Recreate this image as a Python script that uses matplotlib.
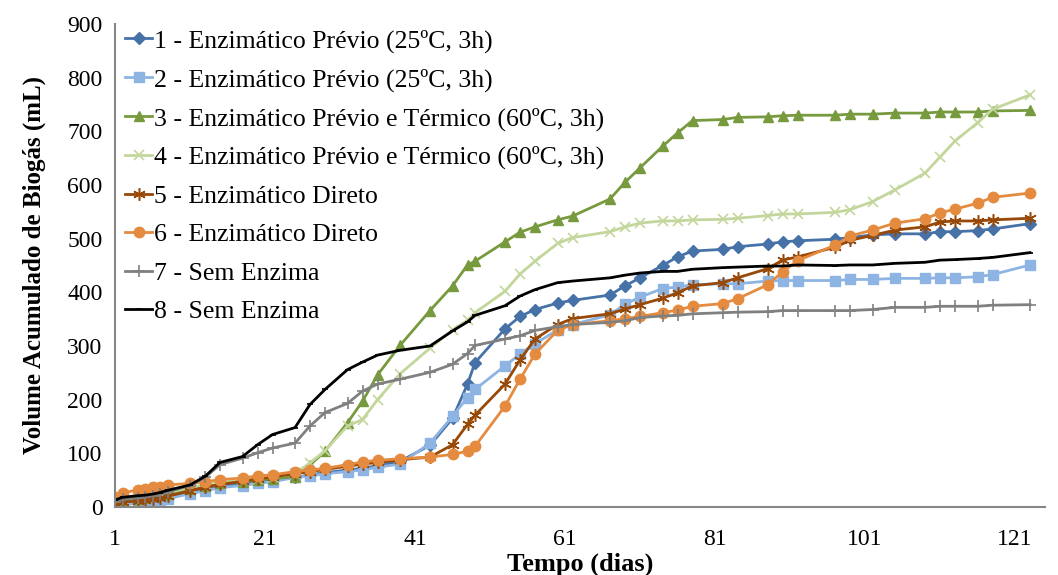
import matplotlib.pyplot as plt

# days on which the biogas volume was read
dias = [1, 2, 4, 5, 6, 7, 8, 11, 13, 15, 18, 20, 22, 25, 27, 29, 32, 34, 36, 39,
        43, 46, 48, 49, 53, 55, 57, 60, 62, 67, 69, 71, 74, 76, 78, 82, 84, 88, 90, 92,
        97, 99, 102, 105, 109, 111, 113, 116, 118, 123]

# accumulated volume (mL) per reactor
r1 = [5, 7, 10, 12, 14, 16, 19, 28, 34, 39, 44, 47, 51, 55, 60, 64, 69, 72, 77, 85,
      115, 165, 229, 269, 332, 355, 368, 380, 385, 395, 412, 427, 450, 466, 477, 480, 485, 490, 494, 496,
      499, 502, 507, 509, 509, 513, 513, 515, 518, 528]
r2 = [2, 4, 7, 9, 11, 13, 15, 25, 30, 36, 40, 44, 47, 55, 58, 62, 66, 69, 74, 80,
      119, 169, 204, 219, 263, 285, 304, 330, 340, 358, 378, 391, 407, 410, 414, 416, 416, 421, 422, 422,
      422, 424, 424, 426, 426, 427, 427, 429, 433, 451]
r3 = [8, 12, 15, 17, 20, 22, 25, 33, 40, 44, 47, 50, 53, 56, 78, 104, 157, 197, 246, 301,
      366, 412, 451, 458, 494, 512, 522, 535, 542, 574, 605, 632, 672, 697, 720, 722, 726, 727, 729, 730,
      730, 732, 732, 734, 734, 736, 736, 736, 738, 739]
r4 = [10, 14, 17, 19, 22, 24, 27, 36, 42, 46, 50, 53, 56, 63, 82, 105, 151, 163, 200, 248,
      296, 330, 348, 362, 402, 434, 458, 491, 502, 513, 522, 529, 533, 533, 535, 536, 538, 543, 546, 546,
      549, 554, 569, 591, 622, 652, 682, 716, 741, 768]
r5 = [6, 9, 11, 13, 15, 17, 20, 30, 37, 42, 48, 52, 56, 62, 66, 70, 76, 80, 83, 88,
      93, 116, 154, 171, 229, 274, 313, 340, 351, 360, 369, 377, 389, 399, 412, 418, 427, 444, 460, 466,
      484, 497, 506, 516, 522, 531, 533, 533, 535, 538]
r6 = [19, 26, 32, 33, 37, 37, 41, 44, 47, 51, 54, 58, 60, 66, 69, 72, 79, 84, 87, 90,
      93, 98, 104, 113, 188, 238, 285, 329, 340, 347, 351, 355, 362, 367, 374, 379, 388, 414, 438, 459,
      488, 505, 516, 529, 537, 548, 555, 566, 577, 585]
r7 = [10, 14, 17, 19, 21, 24, 28, 40, 55, 79, 91, 101, 110, 119, 151, 176, 193, 216, 229, 238,
      251, 266, 286, 301, 313, 319, 329, 336, 340, 344, 347, 353, 356, 357, 360, 362, 363, 364, 366, 366,
      366, 366, 368, 372, 372, 374, 374, 374, 376, 377]
r8 = [13, 18, 21, 22, 24, 27, 31, 41, 57, 83, 94, 116, 135, 148, 191, 219, 256, 270, 283, 292,
      300, 328, 345, 357, 375, 393, 405, 418, 421, 427, 432, 436, 439, 439, 443, 446, 447, 449, 449, 451,
      450, 451, 451, 454, 456, 460, 461, 463, 465, 474]

nomes = ["1 - Enzimático Prévio (25ºC, 3h)",
         "2 - Enzimático Prévio (25ºC, 3h)",
         "3 - Enzimático Prévio e Térmico (60ºC, 3h)",
         "4 - Enzimático Prévio e Térmico (60ºC, 3h)",
         "5 - Enzimático Direto",
         "6 - Enzimático Direto",
         "7 - Sem Enzima",
         "8 - Sem Enzima"]

plt.rcParams['font.family'] = ['Liberation Serif', 'DejaVu Serif']

fig = plt.figure(figsize=(10.58, 5.75), dpi=100)
ax = fig.add_axes([115 / 1058, 1 - 507 / 575, (1045 - 115) / 1058, (507 - 24) / 575])

estilos = [
    (r1, '#4672A8', 'D', 6, dict()),
    (r2, '#8DB4E2', 's', 7, dict()),
    (r3, '#779A3E', '^', 7.5, dict()),
    (r4, '#C3D69B', 'x', 7, dict(markeredgewidth=1.2)),
    (r5, '#984807', (6, 2, 0), 9, dict(markeredgewidth=1.1)),
    (r6, '#E58B3F', 'o', 7.5, dict()),
    (r7, '#808080', '+', 8, dict(markeredgewidth=1.2)),
    (r8, '#000000', '_', 5, dict(markeredgewidth=1.2)),
]

for (vals, cor, mk, ms, extra), nome in zip(estilos, nomes):
    ax.plot(dias, vals, color=cor, lw=2, marker=mk, ms=ms,
            markerfacecolor=cor, markeredgecolor=cor, label=nome, **extra)

ax.set_xlim(1, 125)
ax.set_ylim(0, 900)
ax.set_xticks(range(1, 122, 20))
ax.set_yticks(range(0, 901, 100))
ax.tick_params(length=0, labelsize=17)
ax.tick_params(axis='x', pad=16)
ax.tick_params(axis='y', pad=9)

for lado in ['top', 'right']:
    ax.spines[lado].set_visible(False)
for lado in ['left', 'bottom']:
    ax.spines[lado].set_color('#868686')
    ax.spines[lado].set_linewidth(1.5)

ax.set_xlabel('Tempo (dias)', fontsize=19, fontweight='bold', labelpad=2)
ax.set_ylabel('Volume Acumulado de Biogás (mL)', fontsize=18, fontweight='bold', labelpad=15)

ax.legend(loc='upper left', bbox_to_anchor=(0.0, 1.01), frameon=False, fontsize=18.5,
          handlelength=1.05, handletextpad=0.05, labelspacing=0.6, borderaxespad=0.0,
          borderpad=0.4)

fig.savefig('out.png', dpi=100)
